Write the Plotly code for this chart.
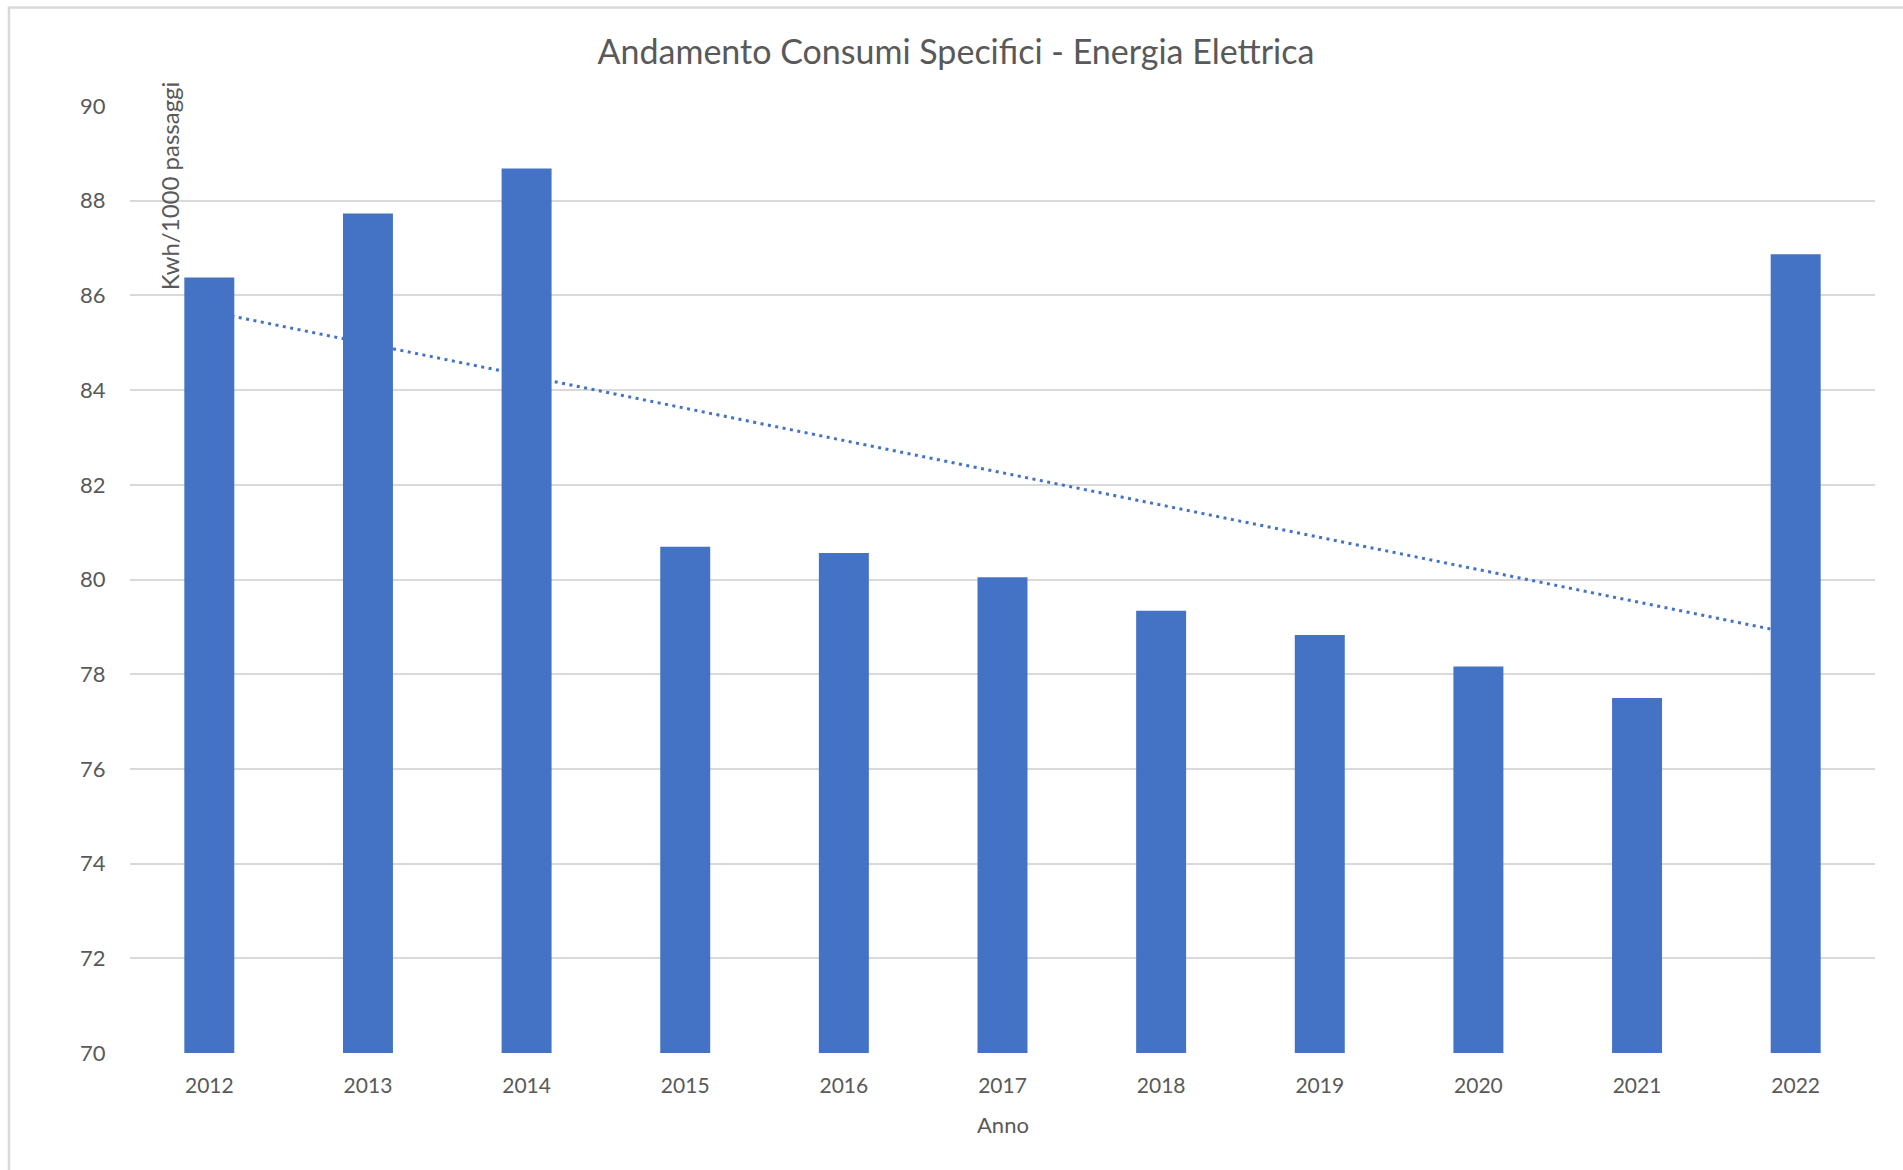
import numpy as np
import plotly.graph_objects as go

years = ["2012", "2013", "2014", "2015", "2016", "2017", "2018", "2019", "2020", "2021", "2022"]
consumi = [86.38, 87.73, 88.68, 80.69, 80.56, 80.05, 79.34, 78.83, 78.16, 77.50, 86.87]
y_ticks = [70, 72, 74, 76, 78, 80, 82, 84, 86, 88, 90]

title_text = "Andamento Consumi Specifici - Energia Elettrica"
x_title = "Anno"
y_title = "Kwh/1000 passaggi"

# linear trendline (as in the original spreadsheet chart)
idx = np.arange(len(years))
slope, intercept = np.polyfit(idx, consumi, 1)
trend = [intercept + slope * i for i in idx]

W, H = 1903, 1170
L, R, T, B = 130, 28.4, 105.6, 116.5
pw, ph = W - L - R, H - T - B

BLUE = "#4472C4"
GRID = "#D9D9D9"
TXT = "#595959"
FONT = "Lato"

fig = go.Figure()
# trendline on the primary axes (drawn below the bars)
fig.add_trace(go.Scatter(
    x=years, y=trend, mode="lines", xaxis="x", yaxis="y",
    line=dict(color=BLUE, width=3, dash="3px,4.5px"),
    showlegend=False, hoverinfo="skip"))
# bars on overlay axes (drawn above the trendline)
fig.add_trace(go.Bar(
    x=years, y=consumi, xaxis="x2", yaxis="y2",
    marker=dict(color=BLUE, line=dict(width=0)),
    showlegend=False))

fig.update_layout(
    width=W, height=H,
    margin=dict(l=L, r=R, t=T, b=B, pad=0),
    paper_bgcolor="white", plot_bgcolor="white",
    font=dict(family=FONT, color=TXT, size=22),
    bargap=0.685,
    title=dict(text=title_text, x=956 / W, xref="container", xanchor="center",
               y=1 - 52 / H, yref="container", yanchor="middle",
               font=dict(family=FONT, size=34, color=TXT)),
    xaxis=dict(type="category", range=[-0.5, len(years) - 0.5],
               showgrid=False, zeroline=False, showline=False,
               ticks="outside", ticklen=14, tickcolor="rgba(0,0,0,0)",
               tickfont=dict(size=21, color=TXT)),
    yaxis=dict(range=[70, 90], tickvals=y_ticks, showgrid=True,
               gridcolor=GRID, gridwidth=2, zeroline=False, showline=False,
               ticks="outside", ticklen=19, tickcolor="rgba(0,0,0,0)",
               tickfont=dict(size=22, color=TXT)),
    xaxis2=dict(type="category", overlaying="x", range=[-0.5, len(years) - 0.5],
                showgrid=False, zeroline=False, showline=False,
                showticklabels=False, matches="x"),
    yaxis2=dict(overlaying="y", range=[70, 90], showgrid=False, zeroline=False,
                showline=False, showticklabels=False),
    shapes=[dict(type="rect", xref="paper", yref="paper",
                 x0=(9 - L) / pw, x1=1.2, y0=-0.3, y1=(H - B - 7) / ph,
                 line=dict(color=GRID, width=2.5), fillcolor="rgba(0,0,0,0)",
                 layer="below")],
    annotations=[
        dict(text=y_title, textangle=-90, xref="paper", yref="paper",
             x=(169 - L) / pw, y=(H - B - 186) / ph, xanchor="center",
             yanchor="middle", showarrow=False,
             font=dict(family=FONT, size=24, color=TXT)),
        dict(text=x_title, xref="paper", yref="paper",
             x=0.5, y=(H - B - 1125) / ph, xanchor="center", yanchor="middle",
             showarrow=False, font=dict(family=FONT, size=22, color=TXT)),
    ],
)

fig.write_html("out.html", config={"displayModeBar": False},
               post_script="document.body.style.margin='0';document.body.style.overflow='hidden';")
